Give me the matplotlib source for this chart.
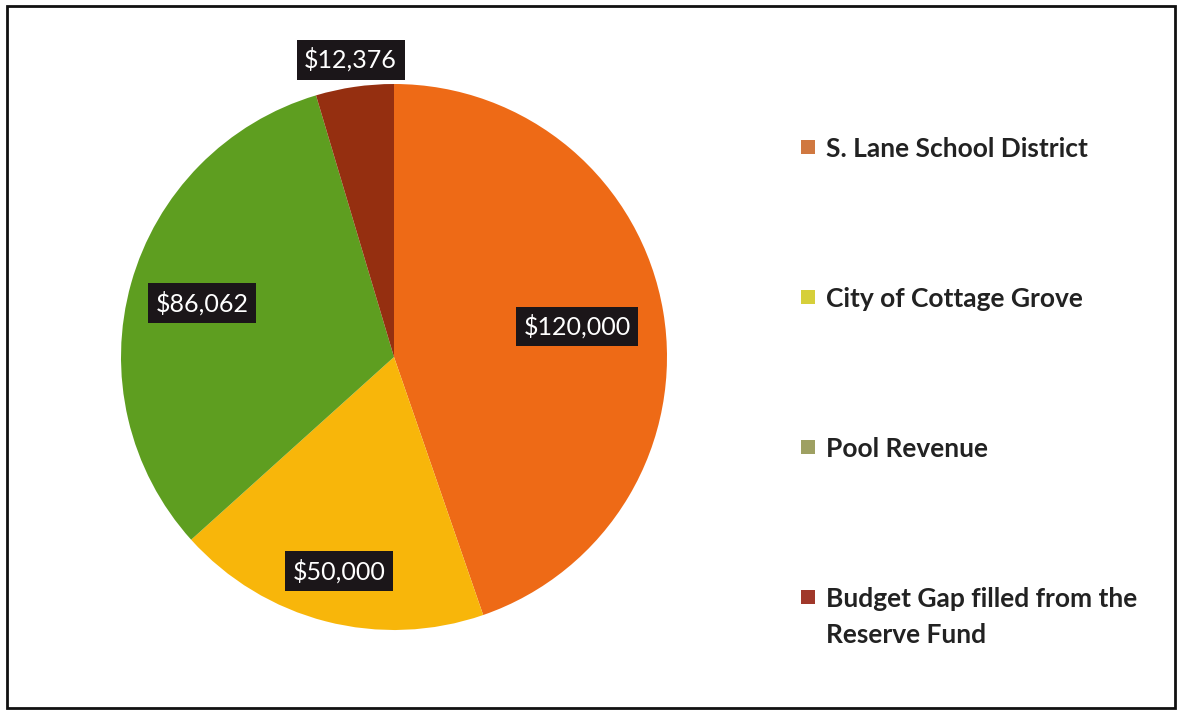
import numpy as np
import matplotlib.pyplot as plt
from matplotlib.patches import Rectangle

plt.rcParams['font.family'] = ['Lato', 'DejaVu Sans']

# funding sources for the pool budget
sources = ['S. Lane School District', 'City of Cottage Grove', 'Pool Revenue',
           'Budget Gap filled from the\nReserve Fund']
amounts = [120000, 50000, 86062, 12376]
value_labels = ['$120,000', '$50,000', '$86,062', '$12,376']

slice_colors = ['#ee6a16', '#f8b60a', '#5e9e20', '#952f10']
legend_colors = ['#d07840', '#d6cf3a', '#9ea062', '#a0382a']
label_dist = [0.68, 0.81, 0.73, 1.10]

W, H = 1178, 711
fig = plt.figure(figsize=(W / 100, H / 100), dpi=100)

# square axes holding the pie, centre (394, 357) px, radius 273 px
cx, cy, r = 394, 357, 273
ax = fig.add_axes([(cx - r) / W, (H - cy - r) / H, 2 * r / W, 2 * r / H])
wedges, _ = ax.pie(amounts, colors=slice_colors, startangle=90, counterclock=False,
                   radius=1.0, wedgeprops=dict(linewidth=0))
ax.set_xlim(-1, 1)
ax.set_ylim(-1, 1)
ax.set_axis_off()

for w, txt, d in zip(wedges, value_labels, label_dist):
    mid = np.deg2rad((w.theta1 + w.theta2) / 2)
    ax.text(d * np.cos(mid), d * np.sin(mid), txt, ha='center', va='center',
            color='white', fontsize=18, clip_on=False,
            bbox=dict(boxstyle='square,pad=0.3', fc='#1b1619', ec='none'))

# legend drawn by hand so the two-line entry sits like the others
rows_y = [147, 297, 447, 597]
for name, col, y in zip(sources, legend_colors, rows_y):
    fig.add_artist(Rectangle((801 / W, (H - y - 7) / H), 14 / W, 14 / H,
                             transform=fig.transFigure, fc=col, ec='none'))
    first, *rest = name.split('\n')
    fig.text(826 / W, (H - y - 10) / H, first, ha='left', va='baseline', fontsize=19,
             fontweight='bold', color='#222222', transform=fig.transFigure)
    for k, line in enumerate(rest, start=1):
        fig.text(826 / W, (H - y - 10 - 36 * k) / H, line, ha='left', va='baseline',
                 fontsize=19, fontweight='bold', color='#222222',
                 transform=fig.transFigure)

# outer frame
fig.add_artist(Rectangle((7 / W, 3 / H), 1168 / W, 702 / H, transform=fig.transFigure,
                         fill=False, ec='#111111', lw=2))

fig.savefig('out.png', dpi=100)
